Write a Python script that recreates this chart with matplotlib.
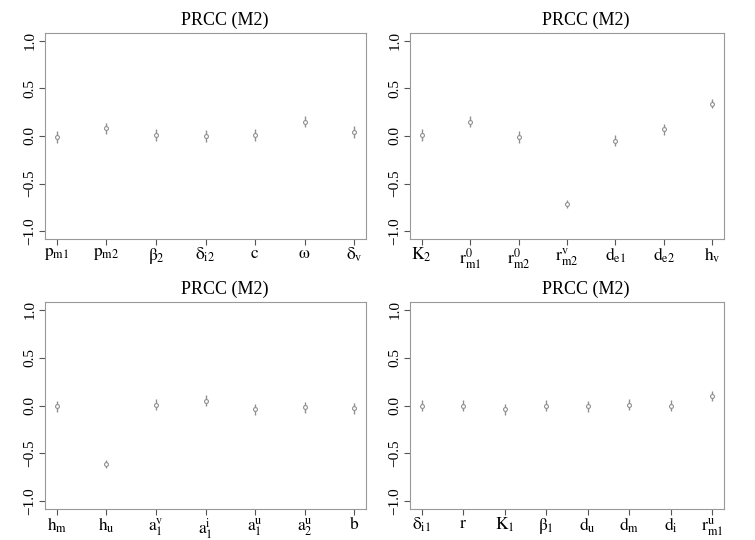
import numpy as np
import matplotlib
matplotlib.use("Agg")
import matplotlib.pyplot as plt

plt.rcParams['font.family'] = ['Liberation Serif', 'DejaVu Serif']
plt.rcParams['mathtext.fontset'] = 'stix'

# parameter labels and PRCC values (with half-widths of the intervals)
labels_a = [r'$\mathrm{p_{m1}}$', r'$\mathrm{p_{m2}}$', r'$\mathrm{\beta_2}$', r'$\mathrm{\delta_{i2}}$',
            r'$\mathrm{c}$', r'$\mathrm{\omega}$', r'$\mathrm{\delta_v}$']
prcc_a = [-0.01, 0.08, 0.01, 0.0, 0.01, 0.15, 0.04]
err_a = [0.06, 0.06, 0.06, 0.06, 0.06, 0.06, 0.06]

labels_b = [r'$\mathrm{K_2}$', r'$\mathrm{r_{m1}^{0}}$', r'$\mathrm{r_{m2}^{0}}$', r'$\mathrm{r_{m2}^{v}}$',
            r'$\mathrm{d_{e1}}$', r'$\mathrm{d_{e2}}$', r'$\mathrm{h_v}$']
prcc_b = [0.01, 0.15, -0.01, -0.71, -0.05, 0.07, 0.34]
err_b = [0.06, 0.06, 0.06, 0.04, 0.06, 0.06, 0.05]

labels_c = [r'$\mathrm{h_m}$', r'$\mathrm{h_u}$', r'$\mathrm{a_1^{v}}$', r'$\mathrm{a_1^{i}}$',
            r'$\mathrm{a_1^{u}}$', r'$\mathrm{a_2^{u}}$', r'$\mathrm{b}$']
prcc_c = [-0.01, -0.61, 0.01, 0.05, -0.04, -0.02, -0.03]
err_c = [0.06, 0.045, 0.06, 0.06, 0.06, 0.06, 0.06]

labels_d = [r'$\mathrm{\delta_{i1}}$', r'$\mathrm{r}$', r'$\mathrm{K_1}$', r'$\mathrm{\beta_1}$',
            r'$\mathrm{d_u}$', r'$\mathrm{d_m}$', r'$\mathrm{d_i}$', r'$\mathrm{r_{m1}^{u}}$']
prcc_d = [0.0, 0.0, -0.04, 0.0, -0.01, 0.01, 0.0, 0.1]
err_d = [0.06, 0.06, 0.06, 0.06, 0.06, 0.06, 0.06, 0.05]

positions = [
    [0.0596, 0.5574, 0.4252, 0.3815],
    [0.5430, 0.5574, 0.4159, 0.3815],
    [0.0596, 0.0574, 0.4252, 0.3833],
    [0.5430, 0.0574, 0.4159, 0.3833],
]
panels = [(labels_a, prcc_a, err_a), (labels_b, prcc_b, err_b),
          (labels_c, prcc_c, err_c), (labels_d, prcc_d, err_d)]

fig = plt.figure(figsize=(7.55, 5.4), dpi=100)

for pos, (labels, vals, errs) in zip(positions, panels):
    ax = fig.add_axes(pos)
    x = np.arange(1, len(vals) + 1)
    ax.errorbar(x, vals, yerr=errs, fmt='o', color='#909090', ecolor='#909090',
                elinewidth=1.0, markersize=2.8, markerfacecolor='white',
                markeredgewidth=0.8, capsize=0)
    pad = 0.04 * (len(vals) - 1)
    ax.set_xlim(1 - pad, len(vals) + pad)
    ax.set_ylim(-1.08, 1.08)
    ax.set_xticks(x)
    ax.set_xticklabels(labels, fontsize=12.5)
    ax.set_yticks([-1.0, -0.5, 0.0, 0.5, 1.0])
    ax.set_yticklabels(['\u22121.0', '\u22120.5', '0.0', '0.5', '1.0'],
                       rotation=90, va='center', fontsize=11)
    for s in ax.spines.values():
        s.set_color('#999999')
        s.set_linewidth(0.8)
    ax.tick_params(axis='both', colors='#555555', labelcolor='black',
                   length=4, width=0.8, pad=2)
    ax.tick_params(axis='x', pad=1)
    ax.set_title('PRCC (M2)', fontsize=13, pad=6, x=0.56)

fig.savefig('out.png', dpi=100)
